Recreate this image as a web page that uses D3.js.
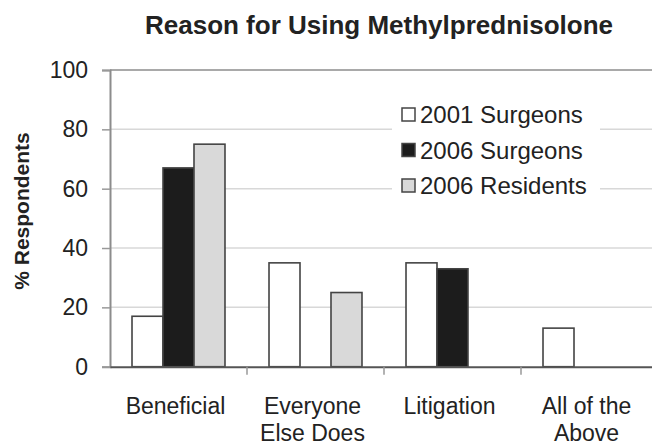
<!DOCTYPE html>
<html lang="en">
<head>
<meta charset="UTF-8">
<title>Reason for Using Methylprednisolone</title>
<script src="https://d3js.org/d3.v7.min.js"></script>
<style>
  body { margin: 0; background: #fff; overflow: hidden; }
  text { font-family: Arial, "Liberation Sans", sans-serif; fill: #222; }
</style>
</head>
<body>
<script>
// data
var categories = [["Beneficial"], ["Everyone", "Else Does"], ["Litigation"], ["All of the", "Above"]];
var seriesNames = ["2001 Surgeons", "2006 Surgeons", "2006 Residents"];
var surgeons2001 = [17, 35, 35, 13];
var surgeons2006 = [67, null, 33, null];
var residents2006 = [75, 25, null, null];
var yTicks = [0, 20, 40, 60, 80, 100];

var seriesValues = [surgeons2001, surgeons2006, residents2006];
var fills = ["#ffffff", "#1c1c1c", "#d9d9d9"];

var W = 652, H = 446;
// plot runs past the right edge of the picture, like the cropped original
var plot = {left: 110, right: 658, top: 70, bottom: 366.7};

var svg = d3.select("body").append("svg")
  .attr("width", W).attr("height", H);

var catKeys = categories.map(function(c) { return c.join(" "); });

var x0 = d3.scaleBand().domain(catKeys).range([plot.left, plot.right]);
var x1 = d3.scaleBand().domain(seriesNames).range([0, x0.bandwidth()]).paddingOuter(0.71);
var y = d3.scaleLinear().domain([0, 100]).range([plot.bottom, plot.top]);

// gridlines
svg.append("g").selectAll("line")
  .data(yTicks.filter(function(t) { return t > 0; }))
  .enter().append("line")
  .attr("x1", plot.left).attr("x2", W + 10)
  .attr("y1", function(d) { return y(d); }).attr("y2", function(d) { return y(d); })
  .attr("stroke", function(d) { return d == 100 ? "#8c8c8c" : "#d8d8d8"; })
  .attr("stroke-width", 1.5);

// legend background hides gridlines
svg.append("rect")
  .attr("x", 392).attr("y", 95).attr("width", 208).attr("height", 105)
  .attr("fill", "#fff");

// bars
var rows = [];
catKeys.forEach(function(c, i) {
  seriesNames.forEach(function(s, j) {
    if (seriesValues[j][i] != null) rows.push({cat: c, series: s, j: j, v: seriesValues[j][i]});
  });
});

svg.append("g").selectAll("rect")
  .data(rows)
  .enter().append("rect")
  .attr("x", function(d) { return x0(d.cat) + x1(d.series); })
  .attr("y", function(d) { return y(d.v); })
  .attr("width", x1.bandwidth())
  .attr("height", function(d) { return y(0) - y(d.v); })
  .attr("fill", function(d) { return fills[d.j]; })
  .attr("stroke", "#444")
  .attr("stroke-width", 1.6);

// y axis
var yAxis = svg.append("g")
  .attr("transform", "translate(" + plot.left + ",0)")
  .call(d3.axisLeft(y).tickValues(yTicks).tickSize(8).tickPadding(14));
yAxis.select(".domain").attr("stroke", "#8c8c8c").attr("stroke-width", 2);
yAxis.selectAll(".tick line").attr("stroke", "#999").attr("stroke-width", 1.5);
yAxis.selectAll(".tick text")
  .style("font-size", "23px").style("font-family", "Arial, 'Liberation Sans', sans-serif")
  .attr("fill", "#222");

// x axis
var xAxis = svg.append("g")
  .attr("transform", "translate(0," + y(0) + ")")
  .call(d3.axisBottom(x0).tickSize(0).tickFormat(""));
xAxis.select(".domain").attr("stroke", "#555").attr("stroke-width", 2);
xAxis.selectAll(".tick").remove();

// category separators
svg.append("g").selectAll("line")
  .data(catKeys.slice(1))
  .enter().append("line")
  .attr("x1", function(d) { return x0(d); }).attr("x2", function(d) { return x0(d); })
  .attr("y1", y(0)).attr("y2", y(0) + 8)
  .attr("stroke", "#999").attr("stroke-width", 1.5);

// category labels
var catLabels = svg.append("g").selectAll("text")
  .data(categories)
  .enter().append("text")
  .attr("x", function(d, i) { return x0(catKeys[i]) + x0.bandwidth() / 2 - 3; })
  .attr("y", 414)
  .attr("text-anchor", "middle")
  .style("font-size", "23px");
catLabels.selectAll("tspan")
  .data(function(d) { return d; })
  .enter().append("tspan")
  .attr("x", function() { return d3.select(this.parentNode).attr("x"); })
  .attr("dy", function(d, i) { return i == 0 ? 0 : 27; })
  .text(function(d) { return d; });

// legend
var legend = svg.append("g").selectAll("g")
  .data(seriesNames)
  .enter().append("g")
  .attr("transform", function(d, i) { return "translate(402," + (108 + i * 35.5) + ")"; });
legend.append("rect")
  .attr("width", 13).attr("height", 13)
  .attr("fill", function(d, i) { return fills[i]; })
  .attr("stroke", "#444").attr("stroke-width", 1.5);
legend.append("text")
  .attr("x", 18).attr("y", 15)
  .style("font-size", "24px")
  .text(function(d) { return d; });

// title
svg.append("text")
  .attr("x", 379).attr("y", 34)
  .attr("text-anchor", "middle")
  .style("font-size", "26px").style("font-weight", "bold")
  .text("Reason for Using Methylprednisolone");

// y title
svg.append("text")
  .attr("transform", "translate(29,211) rotate(-90)")
  .attr("text-anchor", "middle")
  .style("font-size", "21px").style("font-weight", "bold")
  .text("% Respondents");
</script>
</body>
</html>
